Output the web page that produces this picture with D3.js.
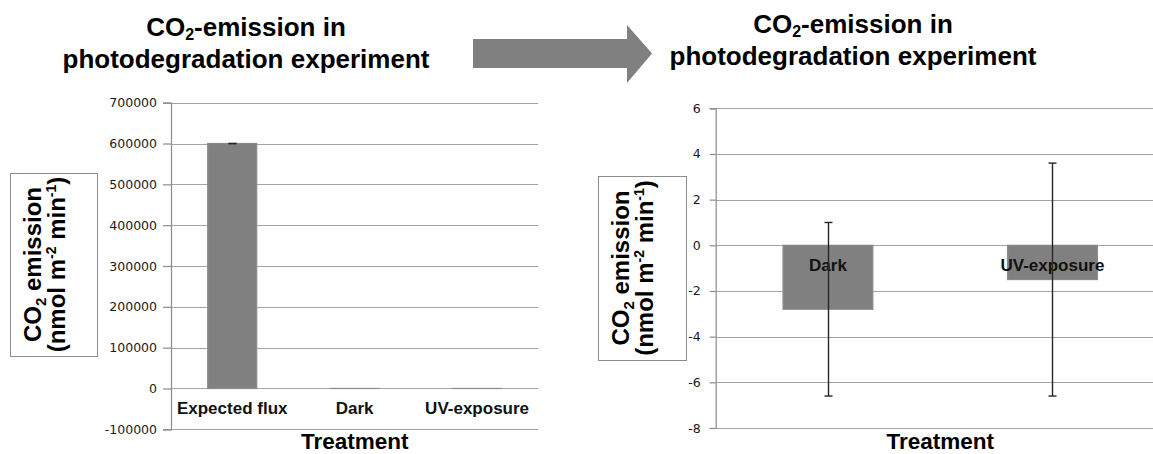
<!DOCTYPE html>
<html>
<head>
<meta charset="utf-8">
<script src="https://cdn.jsdelivr.net/npm/d3@7"></script>
<style>
  html, body { margin: 0; padding: 0; background: #fff; }
  svg { display: block; }
  .title { font-family: "Liberation Sans", Arial, sans-serif; font-weight: bold; font-size: 26px; fill: #000; }
  .tick-label { font-family: "DejaVu Sans", Verdana, sans-serif; font-size: 12.5px; fill: #1a1a1a; }
  .cat-label { font-family: "Liberation Sans", Arial, sans-serif; font-weight: bold; font-size: 17px; fill: #111; }
  .axis-title { font-family: "Liberation Sans", Arial, sans-serif; font-weight: bold; font-size: 22.5px; fill: #000; }
  .ylab { font-family: "Liberation Sans", Arial, sans-serif; font-weight: bold; font-size: 24px; fill: #000; }
</style>
</head>
<body>
<script>
// Treatments and their mean CO2 flux (nmol m-2 min-1) with error bars
const allTreatments = ["Expected flux", "Dark", "UV-exposure"];
const allFlux = [600000, -2.8, -1.5];
const allFluxErr = [0, null, null];

const measuredTreatments = ["Dark", "UV-exposure"];
const measuredFlux = [-2.8, -1.5];
const measuredFluxErr = [3.8, 5.1];

const leftTicks = [-100000, 0, 100000, 200000, 300000, 400000, 500000, 600000, 700000];
const rightTicks = [-8, -6, -4, -2, 0, 2, 4, 6];

const W = 1153, H = 454;
const BAR = "#808080", GRID = "#a3a3a3", AXIS = "#8c8c8c";

const svg = d3.select("body").append("svg").attr("width", W).attr("height", H);

function title(cx, y1, y2) {
  const t1 = svg.append("text").attr("class", "title").attr("x", cx).attr("y", y1).attr("text-anchor", "middle");
  t1.append("tspan").text("CO");
  t1.append("tspan").text("2").attr("font-size", "16px").attr("dy", 4);
  t1.append("tspan").text("-emission in").attr("dy", -4);
  svg.append("text").attr("class", "title").attr("x", cx).attr("y", y2)
    .attr("text-anchor", "middle").text("photodegradation experiment");
}

function yLabelBox(x0, y0, w, h) {
  svg.append("rect").attr("x", x0 + 0.5).attr("y", y0 + 0.5).attr("width", w).attr("height", h)
    .attr("fill", "#fff").attr("stroke", "#8c8c8c").attr("stroke-width", 1);
  const g = svg.append("g")
    .attr("transform", `translate(${x0 + w / 2},${y0 + h / 2}) rotate(-90)`);
  const l1 = g.append("text").attr("class", "ylab").attr("text-anchor", "middle").attr("y", -13);
  l1.append("tspan").text("CO");
  l1.append("tspan").text("2").attr("font-size", "15px").attr("dy", 5);
  l1.append("tspan").text(" emission").attr("dy", -5);
  const l2 = g.append("text").attr("class", "ylab").attr("text-anchor", "middle").attr("y", 11);
  l2.append("tspan").text("(nmol m");
  l2.append("tspan").text("-2").attr("font-size", "14px").attr("dy", -9);
  l2.append("tspan").text(" min").attr("dy", 9);
  l2.append("tspan").text("-1").attr("font-size", "14px").attr("dy", -9);
  l2.append("tspan").text(")").attr("dy", 9);
}

function barChart(opt) {
  const g = svg.append("g");
  const y = d3.scaleLinear().domain(opt.domain).range(opt.yRange);
  const x = d3.scaleBand().domain(opt.cats).range(opt.xRange).paddingInner(0.6).paddingOuter(0.3);
  const [xl] = opt.xRange;
  const xr = opt.gridEnd;

  // horizontal gridlines
  g.selectAll("line.grid").data(opt.ticks).join("line")
    .attr("x1", xl).attr("x2", xr)
    .attr("y1", d => Math.round(y(d)) + 0.5).attr("y2", d => Math.round(y(d)) + 0.5)
    .attr("stroke", GRID).attr("stroke-width", 1.2);

  // value axis with outer ticks; plain hyphen for negatives
  const axis = d3.axisLeft(y).tickValues(opt.ticks).tickSize(opt.tickLen).tickPadding(opt.tickPad)
    .tickFormat(d => String(d));
  const ag = g.append("g").attr("transform", `translate(${xl},0)`).call(axis);
  ag.select(".domain").attr("stroke", AXIS).attr("stroke-width", 1.2);
  ag.selectAll(".tick line").attr("stroke", AXIS).attr("stroke-width", 1.2);
  ag.selectAll(".tick text").attr("class", "tick-label").attr("font-family", null).attr("font-size", null).attr("fill", null);

  const idx = opt.cats.map((c, i) => i);

  // bars
  g.selectAll("rect.bar").data(idx).join("rect")
    .attr("x", i => x(opt.cats[i])).attr("width", x.bandwidth())
    .attr("y", i => y(Math.max(0, opt.vals[i])))
    .attr("height", i => Math.abs(y(opt.vals[i]) - y(0)))
    .attr("fill", BAR).attr("stroke", "#8a8a8a").attr("stroke-width", 1.2);

  // category labels sit just below the zero line
  g.selectAll("text.cat").data(idx).join("text")
    .attr("class", "cat-label")
    .attr("x", i => x(opt.cats[i]) + x.bandwidth() / 2)
    .attr("y", y(0) + 25.5)
    .attr("text-anchor", "middle").text(i => opt.cats[i]);

  // error bars
  const eb = idx.filter(i => opt.errs[i] != null);
  const cap = 4;
  eb.forEach(i => {
    const cx = Math.round(x(opt.cats[i]) + x.bandwidth() / 2) + 0.5;
    const lo = y(opt.vals[i] - opt.errs[i]), hi = y(opt.vals[i] + opt.errs[i]);
    g.append("line").attr("x1", cx).attr("x2", cx).attr("y1", hi).attr("y2", lo)
      .attr("stroke", "#262626").attr("stroke-width", 1.4);
    [hi, lo].forEach(v => g.append("line").attr("x1", cx - cap).attr("x2", cx + cap)
      .attr("y1", v).attr("y2", v).attr("stroke", "#262626").attr("stroke-width", 1.4));
  });

  // axis title
  svg.append("text").attr("class", "axis-title")
    .attr("x", (opt.xRange[0] + opt.xRange[1]) / 2).attr("y", 449)
    .attr("text-anchor", "middle").text("Treatment");
}

// left panel
title(246, 36, 68);
yLabelBox(10, 173, 87, 183);
barChart({
  cats: allTreatments, vals: allFlux, errs: allFluxErr,
  domain: [-100000, 700000], yRange: [429.3, 102.7], ticks: leftTicks,
  xRange: [171, 538.3], gridEnd: 538.3, tickLen: 8, tickPad: 6
});

// arrow between the panels
svg.append("polygon")
  .attr("points", [[473, 39], [627, 39], [627, 25], [652, 53.5], [627, 83], [627, 68], [473, 68]].map(p => p.join(",")).join(" "))
  .attr("fill", BAR);

// right panel
title(853, 33, 65);
yLabelBox(598, 176, 88, 184);
barChart({
  cats: measuredTreatments, vals: measuredFlux, errs: measuredFluxErr,
  domain: [-8, 6], yRange: [428, 108.3], ticks: rightTicks,
  xRange: [715.7, 1164.7], gridEnd: W, tickLen: 6, tickPad: 9
});
</script>
</body>
</html>
